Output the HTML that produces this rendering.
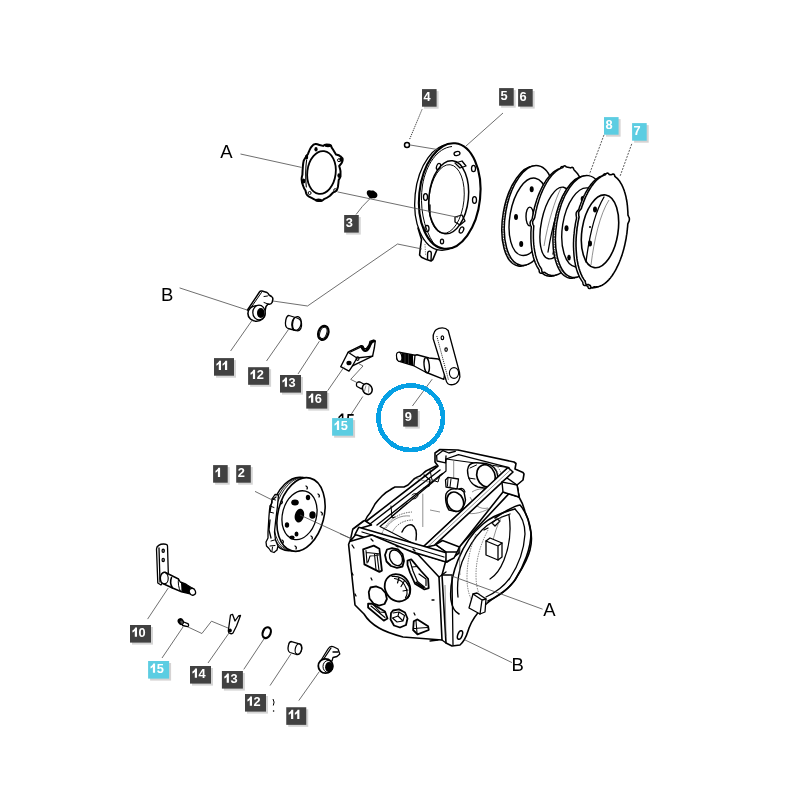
<!DOCTYPE html>
<html><head><meta charset="utf-8"><title>Parts diagram</title>
<style>
html,body{margin:0;padding:0;background:#fff;width:800px;height:800px;overflow:hidden}
svg{display:block;will-change:transform}
.p{fill:none;stroke:#000;stroke-width:1.3;stroke-linejoin:round;stroke-linecap:round}
.pw{fill:#fff;stroke:#000;stroke-width:1.3;stroke-linejoin:round;stroke-linecap:round}
.t{fill:none;stroke:#000;stroke-width:0.7}
.th{fill:none;stroke:#444;stroke-width:0.6}
.d{fill:none;stroke:#555;stroke-width:0.7;stroke-dasharray:1.5 1}
.ld{fill:none;stroke:#4a4a4a;stroke-width:0.8}
.lt{font-family:"Liberation Sans",sans-serif;font-size:12.8px;font-weight:bold;fill:#fff}
.ltc{font-family:"Liberation Sans",sans-serif;font-size:12.8px;font-weight:bold;fill:#fff}
.big{font-family:"Liberation Sans",sans-serif;font-size:18.5px;fill:#000}
</style></head>
<body>
<svg width="800" height="800" viewBox="0 0 800 800">
<rect width="800" height="800" fill="#fff"/>

<!-- PARTS -->
<g id="parts">
<g id="ringA">
  <path fill="#fff" stroke="#000" stroke-width="2" stroke-linejoin="round" d="M312,146.3 C313,144.5 315,144 316,144.1 C318,144.3 319,145 319.5,145 L323,145.9 C324,145 325,144.6 326.5,144.6 C328.5,144.6 330.5,145 330.9,145.4 L331.7,147.6 C333.5,150 335,153 336.1,154.6 C338,155 339.5,155.5 340.5,156.4 C342,157.5 342.8,159 342.7,159.9 C342.5,161.5 342,162.5 341.4,163.4 L339.2,166 C339.8,168 340.3,169.5 340.5,171.2 L340.5,176.5 C340,178 339.3,179 338.7,180 C338.5,183 338.2,185 337.9,187 C337.5,188.5 337,189.7 336.6,190.5 C335.5,191.5 334.5,192 333.5,192.2 C332,193.5 331,194.7 330,195.7 C327.5,197.5 325.5,198.5 323.9,199.2 C322.5,200.5 321.8,201 321.2,201 C319,201 317.5,200.7 316,200.1 C314.5,199.5 313.5,198.9 312.5,198.4 L309,196.6 C307.5,195.8 306.8,195 306.4,194 C306,192.5 305.7,191.5 305.5,190.5 C304.3,189 303.5,187 302.9,185.2 C302,183 301.7,181 301.6,179.1 C301.6,177.5 302,176 302.4,174.7 C302.5,171.5 302.7,168.5 302.9,166 C303.1,164 303.3,162.3 303.7,160.7 C304.5,159 305.4,157.5 306.4,156.4 L308.1,153.7 C308.8,152 309.3,150.6 309.9,149.4 C310.6,148 311.2,147 312,146.3 Z"/>
  <ellipse cx="321.5" cy="172.5" rx="14.2" ry="21.5" transform="rotate(7 321.5 172.5)" fill="none" stroke="#000" stroke-width="1.8"/>
  <path class="p" style="stroke-width:1.1" d="M306.6,160 C305.5,168 305.5,179 306.3,187"/>
  <g fill="#000">
    <ellipse cx="316" cy="149.2" rx="1.6" ry="2.2"/>
    <ellipse cx="303.6" cy="181" rx="1.8" ry="2.6"/>
    <ellipse cx="306.6" cy="157" rx="1.6" ry="2.6"/>
    <ellipse cx="339" cy="175.6" rx="1.6" ry="2.4"/>
    <ellipse cx="328" cy="145.6" rx="3.6" ry="1.7"/>
    <ellipse cx="318.5" cy="200.3" rx="3.6" ry="1.7"/>
    <ellipse cx="341" cy="159.5" rx="1.5" ry="2.2"/>
  </g>
  <g fill="none" stroke="#000" stroke-width="1">
    <circle cx="339" cy="160.2" r="1.5"/>
    <circle cx="335.2" cy="190.2" r="1.5"/>
    <circle cx="309.6" cy="193" r="1.5"/>
  </g>
</g>
<g id="spring3">
  <path fill="#000" d="M367,191.5 C368,190 370,190.3 371,190.7 C372.5,190 374.5,190.5 375.5,192 C377,193 377.8,194.5 377.3,196 C377,197.5 375,198.5 373,198.3 C371,198.8 369,198 368.5,196.5 C367,195 366.3,193 367,191.5 Z"/>
</g>
<circle cx="407" cy="144.9" r="2.5" fill="#fff" stroke="#000" stroke-width="1.5"/>
<g id="ring56">
  <!-- tab -->
  <path class="pw" style="stroke-width:1.6" d="M418,228 L421.5,239.5 L420.2,249 L419.6,255 L421.5,257.2 L426.5,259.6 L431,261 L432.8,259.6 L437,249.5 L441,238 Z"/>
  <path fill="none" stroke="#000" stroke-width="1.4" d="M427.5,259.8 L427.6,253.5 C427.8,250.3 431.3,250.3 431.3,253.5 L431,260.5"/>
  <path fill="none" stroke="#555" stroke-width="0.8" stroke-dasharray="1.2 1.2" d="M425,244 L425.6,256"/>
  <ellipse cx="445.5" cy="197.5" rx="30.5" ry="53" transform="rotate(6 445.5 197.5)" fill="#fff" stroke="#000" stroke-width="1.3"/>
  <ellipse cx="449.7" cy="196" rx="30.5" ry="53" transform="rotate(6 449.7 196)" fill="#fff" stroke="#000" stroke-width="2.1"/>
  <path fill="none" stroke="#000" stroke-width="1" d="M452,146.5 C437,148 426,165 422.5,185 C419.5,205 423,228 434,244"/>
  <ellipse cx="448.7" cy="197.3" rx="19.7" ry="36.7" transform="rotate(6 448.7 197.3)" fill="#fff" stroke="#000" stroke-width="1.5"/>
  <ellipse cx="446.5" cy="199" rx="17.5" ry="34.5" transform="rotate(6 446.5 199)" fill="none" stroke="#000" stroke-width="0.9"/>
  <g fill="none" stroke="#000" stroke-width="1.3">
    <ellipse cx="457" cy="153.5" rx="3" ry="2" transform="rotate(-15 457 153.5)"/>
    <ellipse cx="438.5" cy="166.5" rx="1.9" ry="3.2" transform="rotate(20 438.5 166.5)"/>
    <ellipse cx="473.5" cy="168.5" rx="2" ry="3.2"/>
    <ellipse cx="425.5" cy="197" rx="2" ry="3.4"/>
    <ellipse cx="474.5" cy="200" rx="2" ry="3.4"/>
    <ellipse cx="427" cy="228.5" rx="2" ry="3.2"/>
    <ellipse cx="461.5" cy="230" rx="2" ry="3.2" transform="rotate(25 461.5 230)"/>
    <ellipse cx="442" cy="241.5" rx="1.6" ry="2.4"/>
  </g>
  <path class="p" d="M455,163 L462,161 L466,166 L460,168 Z"/>
  <path class="p" d="M455,217 L462,215 L465,221 L460,225 L455,222 Z"/>
  <path class="p" d="M430,205 L430,213"/>
</g>
<g id="disks">
<!-- D1 -->
<ellipse cx="527" cy="216.3" rx="24" ry="50.5" transform="rotate(10 527 216.3)" fill="#fff" stroke="#000" stroke-width="1.5"/>
<ellipse cx="528.2" cy="215.9" rx="24" ry="50.5" transform="rotate(10 528.2 215.9)" fill="none" stroke="#000" stroke-width="1.6" stroke-dasharray="0.5 1.1"/>
<ellipse cx="529.5" cy="215.5" rx="24" ry="50.5" transform="rotate(10 529.5 215.5)" fill="#fff" stroke="#000" stroke-width="1.5"/>
<ellipse cx="528.5" cy="216.8" rx="18.5" ry="39.2" transform="rotate(10 528.5 216.8)" fill="#fff" stroke="#000" stroke-width="1.4"/>
<g fill="#000"><ellipse cx="531.7" cy="189.2" rx="2" ry="3"/><ellipse cx="516" cy="217" rx="2" ry="3"/><ellipse cx="521.2" cy="244" rx="2" ry="3"/></g>
<ellipse cx="529.8" cy="216.5" rx="3.8" ry="9.4" fill="#fff" stroke="#000" stroke-width="1.4"/>
<!-- D2 -->
<path fill="#fff" stroke="#000" stroke-width="1.5" d="M581.7,226.0 L581.5,227.4 L581.2,228.8 L580.9,230.2 L580.7,231.6 L580.4,233.0 L580.0,234.4 L579.7,235.8 L579.4,237.2 L579.0,238.5 L578.6,239.9 L578.2,241.2 L577.8,242.5 L577.4,243.8 L577.0,245.1 L576.5,246.4 L576.1,247.6 L575.6,248.9 L575.1,250.1 L574.6,251.3 L574.1,252.5 L573.6,253.7 L573.0,254.8 L572.5,255.9 L571.9,257.0 L571.4,258.1 L570.8,259.1 L570.2,260.2 L569.6,261.2 L569.0,262.1 L568.4,263.1 L567.8,264.0 L567.2,264.9 L566.5,265.7 L565.9,266.5 L565.2,267.3 L564.6,268.1 L563.9,268.8 L563.3,269.5 L562.6,270.2 L561.9,270.8 L561.3,271.4 L560.6,272.0 L559.9,272.5 L559.2,273.0 L558.5,273.5 L557.9,273.9 L557.2,274.3 L556.5,274.7 L555.8,275.0 L555.1,275.3 L554.4,275.5 L553.8,275.8 L553.1,275.9 L552.4,276.1 L551.7,276.2 L551.1,276.2 L550.4,276.3 L549.7,276.3 L549.1,276.2 L548.4,276.1 L547.8,276.0 L547.2,275.8 L546.5,275.7 L545.9,275.4 L545.3,275.2 L544.7,274.8 L544.1,274.5 L543.5,274.1 L542.9,273.7 L542.3,273.3 L541.6,273.1 L540.7,273.3 L540.0,273.0 L539.5,272.4 L539.2,271.3 L539.1,269.9 L538.6,269.2 L538.2,268.5 L537.7,267.7 L537.2,266.9 L536.8,266.1 L536.4,265.3 L536.0,264.4 L535.6,263.5 L535.2,262.6 L534.8,261.6 L534.5,260.6 L534.1,259.6 L533.8,258.6 L533.5,257.5 L533.2,256.5 L532.9,255.3 L532.7,254.2 L532.4,253.1 L532.2,251.9 L532.0,250.7 L531.8,249.5 L531.6,248.2 L531.5,247.0 L531.3,245.7 L531.2,244.4 L531.1,243.1 L531.0,241.8 L531.0,240.5 L530.9,239.2 L530.9,237.8 L530.9,236.4 L530.9,235.1 L530.9,233.7 L530.9,232.3 L531.0,230.9 L531.1,229.5 L531.2,228.1 L531.3,226.7 L530.5,225.3 L530.1,223.8 L530.2,222.3 L530.8,220.9 L531.7,219.6 L532.3,218.2 L532.5,216.8 L532.8,215.4 L533.1,214.0 L533.3,212.6 L533.6,211.2 L534.0,209.8 L534.3,208.4 L534.6,207.0 L535.0,205.7 L535.4,204.3 L535.8,203.0 L536.2,201.7 L536.6,200.4 L537.0,199.1 L537.5,197.8 L537.9,196.6 L538.4,195.3 L538.9,194.1 L539.4,192.9 L539.9,191.7 L540.4,190.5 L541.0,189.4 L541.5,188.3 L542.1,187.2 L542.6,186.1 L543.2,185.1 L543.8,184.0 L544.4,183.0 L545.0,182.1 L545.6,181.1 L546.2,180.2 L546.8,179.3 L547.5,178.5 L548.1,177.7 L548.8,176.9 L549.4,176.1 L550.1,175.4 L550.7,174.7 L551.4,174.0 L552.1,173.4 L552.7,172.8 L553.4,172.2 L554.1,171.7 L554.8,171.2 L555.5,170.7 L556.1,170.3 L556.8,169.9 L557.5,169.5 L558.2,169.2 L558.9,168.9 L559.6,168.7 L560.2,168.4 L560.9,167.3 L561.6,166.7 L562.3,166.5 L563.0,166.8 L563.6,167.6 L564.3,167.9 L564.9,168.0 L565.6,168.1 L566.2,168.2 L566.8,168.4 L567.5,168.5 L568.1,168.8 L569.0,168.2 L569.7,168.0 L570.4,168.3 L570.9,169.0 L571.2,170.1 L571.7,170.9 L572.2,171.4 L572.8,171.9 L573.3,172.5 L573.8,173.1 L574.4,173.7 L574.9,174.3 L575.4,175.0 L575.8,175.7 L576.3,176.5 L576.8,177.3 L577.2,178.1 L577.6,178.9 L578.0,179.8 L578.4,180.7 L578.8,181.6 L579.2,182.6 L579.5,183.6 L579.9,184.6 L580.2,185.6 L580.5,186.7 L580.8,187.7 L581.1,188.9 L581.3,190.0 L581.6,191.1 L581.8,192.3 L582.0,193.5 L582.2,194.7 L582.4,196.0 L582.5,197.2 L582.7,198.5 L582.8,199.8 L582.9,201.1 L583.0,202.4 L583.0,203.7 L583.1,205.0 L583.1,206.4 L583.1,207.8 L583.1,209.1 L583.1,210.5 L583.1,211.9 L583.0,213.3 L582.9,214.7 L582.8,216.1 L582.7,217.5 L582.6,218.9 L582.5,220.3 L582.3,221.8 L582.1,223.2 L581.9,224.6 Z"/>
<path fill="#fff" stroke="#000" stroke-width="1.5" d="M584.2,225.2 L584.0,226.6 L583.7,228.0 L583.4,229.4 L583.2,230.8 L582.9,232.2 L582.5,233.6 L582.2,235.0 L581.9,236.4 L581.5,237.7 L581.1,239.1 L580.7,240.4 L580.3,241.7 L579.9,243.0 L579.5,244.3 L579.0,245.6 L578.6,246.8 L578.1,248.1 L577.6,249.3 L577.1,250.5 L576.6,251.7 L576.1,252.9 L575.5,254.0 L575.0,255.1 L574.4,256.2 L573.9,257.3 L573.3,258.3 L572.7,259.4 L572.1,260.4 L571.5,261.3 L570.9,262.3 L570.3,263.2 L569.7,264.1 L569.0,264.9 L568.4,265.7 L567.7,266.5 L567.1,267.3 L566.4,268.0 L565.8,268.7 L565.1,269.4 L564.4,270.0 L563.8,270.6 L563.1,271.2 L562.4,271.7 L561.7,272.2 L561.0,272.7 L560.4,273.1 L559.7,273.5 L559.0,273.9 L558.3,274.2 L557.6,274.5 L556.9,274.7 L556.3,275.0 L555.6,275.1 L554.9,275.3 L554.2,275.4 L553.6,275.4 L552.9,275.5 L552.2,275.5 L551.6,275.4 L550.9,275.3 L550.3,275.2 L549.7,275.0 L549.0,274.9 L548.4,274.6 L547.8,274.4 L547.2,274.0 L546.6,273.7 L546.0,273.3 L545.4,272.9 L544.8,272.5 L544.1,272.3 L543.2,272.5 L542.5,272.2 L542.0,271.6 L541.7,270.5 L541.6,269.1 L541.1,268.4 L540.7,267.7 L540.2,266.9 L539.7,266.1 L539.3,265.3 L538.9,264.5 L538.5,263.6 L538.1,262.7 L537.7,261.8 L537.3,260.8 L537.0,259.8 L536.6,258.8 L536.3,257.8 L536.0,256.7 L535.7,255.7 L535.4,254.5 L535.2,253.4 L534.9,252.3 L534.7,251.1 L534.5,249.9 L534.3,248.7 L534.1,247.4 L534.0,246.2 L533.8,244.9 L533.7,243.6 L533.6,242.3 L533.5,241.0 L533.5,239.7 L533.4,238.4 L533.4,237.0 L533.4,235.6 L533.4,234.3 L533.4,232.9 L533.4,231.5 L533.5,230.1 L533.6,228.7 L533.7,227.3 L533.8,225.9 L533.0,224.5 L532.6,223.0 L532.7,221.5 L533.3,220.1 L534.2,218.8 L534.8,217.4 L535.0,216.0 L535.3,214.6 L535.6,213.2 L535.8,211.8 L536.1,210.4 L536.5,209.0 L536.8,207.6 L537.1,206.2 L537.5,204.9 L537.9,203.5 L538.3,202.2 L538.7,200.9 L539.1,199.6 L539.5,198.3 L540.0,197.0 L540.4,195.8 L540.9,194.5 L541.4,193.3 L541.9,192.1 L542.4,190.9 L542.9,189.7 L543.5,188.6 L544.0,187.5 L544.6,186.4 L545.1,185.3 L545.7,184.3 L546.3,183.2 L546.9,182.2 L547.5,181.3 L548.1,180.3 L548.7,179.4 L549.3,178.5 L550.0,177.7 L550.6,176.9 L551.3,176.1 L551.9,175.3 L552.6,174.6 L553.2,173.9 L553.9,173.2 L554.6,172.6 L555.2,172.0 L555.9,171.4 L556.6,170.9 L557.3,170.4 L558.0,169.9 L558.6,169.5 L559.3,169.1 L560.0,168.7 L560.7,168.4 L561.4,168.1 L562.1,167.9 L562.7,167.6 L563.4,166.5 L564.1,165.9 L564.8,165.7 L565.5,166.0 L566.1,166.8 L566.8,167.1 L567.4,167.2 L568.1,167.3 L568.7,167.4 L569.3,167.6 L570.0,167.7 L570.6,168.0 L571.5,167.4 L572.2,167.2 L572.9,167.5 L573.4,168.2 L573.7,169.3 L574.2,170.1 L574.7,170.6 L575.3,171.1 L575.8,171.7 L576.3,172.3 L576.9,172.9 L577.4,173.5 L577.9,174.2 L578.3,174.9 L578.8,175.7 L579.3,176.5 L579.7,177.3 L580.1,178.1 L580.5,179.0 L580.9,179.9 L581.3,180.8 L581.7,181.8 L582.0,182.8 L582.4,183.8 L582.7,184.8 L583.0,185.9 L583.3,186.9 L583.6,188.1 L583.8,189.2 L584.1,190.3 L584.3,191.5 L584.5,192.7 L584.7,193.9 L584.9,195.2 L585.0,196.4 L585.2,197.7 L585.3,199.0 L585.4,200.3 L585.5,201.6 L585.5,202.9 L585.6,204.2 L585.6,205.6 L585.6,207.0 L585.6,208.3 L585.6,209.7 L585.6,211.1 L585.5,212.5 L585.4,213.9 L585.3,215.3 L585.2,216.7 L585.1,218.1 L585.0,219.5 L584.8,221.0 L584.6,222.4 L584.4,223.8 Z"/>
<ellipse cx="556" cy="223" rx="14.5" ry="36.5" transform="rotate(12 556 223)" fill="#fff" stroke="#000" stroke-width="1.4"/>
<path class="p" d="M566,190 C558,205 552,228 548,252 M569,196 C562,210 557,230 553,254"/>
<path class="th" d="M561,188 C555,200 548,222 544,246"/>
<!-- D3 -->
<ellipse cx="578" cy="227.3" rx="24" ry="51.5" transform="rotate(9 578 227.3)" fill="#fff" stroke="#000" stroke-width="1.5"/>
<ellipse cx="579.2" cy="226.9" rx="24" ry="51.5" transform="rotate(9 579.2 226.9)" fill="none" stroke="#000" stroke-width="1.6" stroke-dasharray="0.5 1.1"/>
<ellipse cx="580.5" cy="226.5" rx="24" ry="51.5" transform="rotate(9 580.5 226.5)" fill="#fff" stroke="#000" stroke-width="1.5"/>
<ellipse cx="582" cy="227.5" rx="19.5" ry="40" transform="rotate(9 582 227.5)" fill="none" stroke="#000" stroke-width="1.4"/>
<g fill="#000"><ellipse cx="582.7" cy="199" rx="2" ry="3"/><ellipse cx="566.5" cy="228.3" rx="2" ry="3"/><ellipse cx="569" cy="257.6" rx="1.8" ry="2.8"/></g>
<!-- D4 -->
<path fill="#fff" stroke="#000" stroke-width="1.5" d="M624.3,235.0 L624.0,236.4 L623.8,237.9 L623.6,239.4 L623.3,240.8 L623.0,242.3 L622.7,243.7 L622.4,245.2 L622.1,246.6 L621.7,248.0 L621.4,249.4 L621.0,250.8 L620.6,252.2 L620.2,253.5 L619.8,254.9 L619.4,256.2 L618.9,257.5 L618.4,258.8 L618.0,260.1 L617.5,261.3 L617.0,262.6 L616.5,263.8 L616.0,265.0 L615.4,266.2 L614.9,267.3 L614.3,268.4 L613.8,269.5 L613.2,270.6 L612.6,271.7 L612.0,272.7 L611.4,273.7 L610.8,274.6 L610.2,275.6 L609.6,276.5 L608.9,277.3 L608.3,278.2 L607.7,279.0 L607.0,279.7 L606.4,280.5 L605.7,281.2 L605.0,281.9 L604.4,282.5 L603.7,283.1 L603.0,283.7 L602.4,284.2 L601.7,284.7 L601.0,285.2 L600.3,285.6 L599.6,286.0 L599.0,286.3 L598.3,286.6 L597.6,286.9 L596.9,287.1 L596.3,287.3 L595.6,287.5 L594.9,287.6 L594.2,287.7 L593.6,287.7 L592.9,287.8 L592.3,287.7 L591.6,287.6 L590.9,287.9 L590.1,288.5 L589.4,288.6 L588.7,288.3 L588.2,287.6 L587.8,286.4 L587.2,286.1 L586.6,285.7 L586.0,285.3 L585.2,285.4 L584.4,285.5 L583.7,285.2 L583.2,284.4 L582.9,283.2 L582.7,282.0 L582.2,281.4 L581.7,280.7 L581.2,279.9 L580.8,279.2 L580.3,278.4 L579.8,277.6 L579.4,276.7 L579.0,275.8 L578.6,274.9 L578.2,273.9 L577.8,272.9 L577.4,271.9 L577.1,270.9 L576.7,269.8 L576.4,268.7 L576.1,267.6 L575.8,266.5 L575.5,265.3 L575.3,264.1 L575.1,262.9 L574.8,261.7 L574.6,260.4 L574.4,259.2 L574.3,257.9 L574.1,256.6 L574.0,255.2 L573.9,253.9 L573.8,252.5 L573.7,251.2 L573.6,249.8 L573.6,248.4 L573.5,247.0 L573.5,245.5 L573.5,244.1 L573.5,242.7 L573.6,241.2 L573.6,239.8 L573.7,238.3 L573.8,236.8 L573.9,235.4 L574.1,233.9 L574.2,232.4 L574.4,231.0 L574.5,229.5 L574.7,228.0 L575.0,226.6 L575.2,225.1 L575.4,223.6 L575.7,222.2 L576.0,220.7 L576.3,219.3 L576.6,217.8 L576.3,216.2 L576.1,214.5 L576.2,213.0 L576.8,211.7 L577.8,210.6 L578.8,209.5 L579.2,208.1 L579.6,206.8 L580.1,205.5 L580.6,204.2 L581.0,202.9 L581.5,201.7 L582.0,200.4 L582.5,199.2 L583.0,198.0 L583.6,196.8 L584.1,195.7 L584.7,194.6 L585.2,193.5 L585.8,192.4 L586.4,191.3 L587.0,190.3 L587.6,189.3 L588.2,188.4 L588.8,187.4 L589.4,186.5 L590.1,185.7 L590.7,184.8 L591.3,184.0 L592.0,183.3 L592.6,182.5 L593.3,181.8 L594.0,181.1 L594.6,180.5 L595.3,179.9 L596.0,179.3 L596.6,178.8 L597.3,178.3 L598.0,177.8 L598.7,177.4 L599.4,177.0 L600.0,176.7 L600.7,176.4 L601.4,176.1 L602.1,175.9 L602.7,175.7 L603.4,174.8 L604.1,174.1 L604.8,173.8 L605.5,174.0 L606.1,174.6 L606.7,175.3 L607.4,175.4 L608.0,175.5 L608.7,175.6 L609.4,175.4 L610.2,174.9 L610.9,174.9 L611.6,175.2 L612.1,176.1 L612.4,177.3 L613.0,177.7 L613.5,178.2 L614.1,178.7 L614.7,179.2 L615.2,179.7 L615.7,180.3 L616.3,181.0 L616.8,181.6 L617.3,182.3 L617.8,183.1 L618.2,183.8 L618.7,184.6 L619.2,185.4 L619.6,186.3 L620.0,187.2 L620.4,188.1 L620.8,189.1 L621.2,190.1 L621.6,191.1 L621.9,192.1 L622.3,193.2 L622.6,194.3 L622.9,195.4 L623.2,196.5 L623.5,197.7 L623.7,198.9 L623.9,200.1 L624.2,201.3 L624.4,202.6 L624.6,203.8 L624.7,205.1 L624.9,206.4 L625.0,207.8 L625.1,209.1 L625.2,210.5 L625.3,211.8 L625.4,213.2 L625.4,214.6 L625.5,216.0 L626.1,217.3 L626.8,218.7 L626.9,220.1 L626.7,221.7 L626.0,223.2 L625.3,224.7 L625.2,226.2 L625.1,227.6 L624.9,229.1 L624.8,230.6 L624.6,232.0 L624.5,233.5 Z"/>
<path fill="#fff" stroke="#000" stroke-width="1.6" d="M626.8,234.2 L626.5,235.6 L626.3,237.1 L626.1,238.6 L625.8,240.0 L625.5,241.5 L625.2,242.9 L624.9,244.4 L624.6,245.8 L624.2,247.2 L623.9,248.6 L623.5,250.0 L623.1,251.4 L622.7,252.7 L622.3,254.1 L621.9,255.4 L621.4,256.7 L620.9,258.0 L620.5,259.3 L620.0,260.5 L619.5,261.8 L619.0,263.0 L618.5,264.2 L617.9,265.4 L617.4,266.5 L616.8,267.6 L616.3,268.7 L615.7,269.8 L615.1,270.9 L614.5,271.9 L613.9,272.9 L613.3,273.8 L612.7,274.8 L612.1,275.7 L611.4,276.5 L610.8,277.4 L610.2,278.2 L609.5,278.9 L608.9,279.7 L608.2,280.4 L607.5,281.1 L606.9,281.7 L606.2,282.3 L605.5,282.9 L604.9,283.4 L604.2,283.9 L603.5,284.4 L602.8,284.8 L602.1,285.2 L601.5,285.5 L600.8,285.8 L600.1,286.1 L599.4,286.3 L598.8,286.5 L598.1,286.7 L597.4,286.8 L596.7,286.9 L596.1,286.9 L595.4,287.0 L594.8,286.9 L594.1,286.8 L593.4,287.1 L592.6,287.7 L591.9,287.8 L591.2,287.5 L590.7,286.8 L590.3,285.6 L589.7,285.3 L589.1,284.9 L588.5,284.5 L587.7,284.6 L586.9,284.7 L586.2,284.4 L585.7,283.6 L585.4,282.4 L585.2,281.2 L584.7,280.6 L584.2,279.9 L583.7,279.1 L583.3,278.4 L582.8,277.6 L582.3,276.8 L581.9,275.9 L581.5,275.0 L581.1,274.1 L580.7,273.1 L580.3,272.1 L579.9,271.1 L579.6,270.1 L579.2,269.0 L578.9,267.9 L578.6,266.8 L578.3,265.7 L578.0,264.5 L577.8,263.3 L577.6,262.1 L577.3,260.9 L577.1,259.6 L576.9,258.4 L576.8,257.1 L576.6,255.8 L576.5,254.4 L576.4,253.1 L576.3,251.7 L576.2,250.4 L576.1,249.0 L576.1,247.6 L576.0,246.2 L576.0,244.7 L576.0,243.3 L576.0,241.9 L576.1,240.4 L576.1,239.0 L576.2,237.5 L576.3,236.0 L576.4,234.6 L576.6,233.1 L576.7,231.6 L576.9,230.2 L577.0,228.7 L577.2,227.2 L577.5,225.8 L577.7,224.3 L577.9,222.8 L578.2,221.4 L578.5,219.9 L578.8,218.5 L579.1,217.0 L578.8,215.4 L578.6,213.7 L578.7,212.2 L579.3,210.9 L580.3,209.8 L581.3,208.7 L581.7,207.3 L582.1,206.0 L582.6,204.7 L583.1,203.4 L583.5,202.1 L584.0,200.9 L584.5,199.6 L585.0,198.4 L585.5,197.2 L586.1,196.0 L586.6,194.9 L587.2,193.8 L587.7,192.7 L588.3,191.6 L588.9,190.5 L589.5,189.5 L590.1,188.5 L590.7,187.6 L591.3,186.6 L591.9,185.7 L592.6,184.9 L593.2,184.0 L593.8,183.2 L594.5,182.5 L595.1,181.7 L595.8,181.0 L596.5,180.3 L597.1,179.7 L597.8,179.1 L598.5,178.5 L599.1,178.0 L599.8,177.5 L600.5,177.0 L601.2,176.6 L601.9,176.2 L602.5,175.9 L603.2,175.6 L603.9,175.3 L604.6,175.1 L605.2,174.9 L605.9,174.0 L606.6,173.3 L607.3,173.0 L608.0,173.2 L608.6,173.8 L609.2,174.5 L609.9,174.6 L610.5,174.7 L611.2,174.8 L611.9,174.6 L612.7,174.1 L613.4,174.1 L614.1,174.4 L614.6,175.3 L614.9,176.5 L615.5,176.9 L616.0,177.4 L616.6,177.9 L617.2,178.4 L617.7,178.9 L618.2,179.5 L618.8,180.2 L619.3,180.8 L619.8,181.5 L620.3,182.3 L620.7,183.0 L621.2,183.8 L621.7,184.6 L622.1,185.5 L622.5,186.4 L622.9,187.3 L623.3,188.3 L623.7,189.3 L624.1,190.3 L624.4,191.3 L624.8,192.4 L625.1,193.5 L625.4,194.6 L625.7,195.7 L626.0,196.9 L626.2,198.1 L626.4,199.3 L626.7,200.5 L626.9,201.8 L627.1,203.0 L627.2,204.3 L627.4,205.6 L627.5,207.0 L627.6,208.3 L627.7,209.7 L627.8,211.0 L627.9,212.4 L627.9,213.8 L628.0,215.2 L628.6,216.5 L629.3,217.9 L629.4,219.3 L629.2,220.9 L628.5,222.4 L627.8,223.9 L627.7,225.4 L627.6,226.8 L627.4,228.3 L627.3,229.8 L627.1,231.2 L627.0,232.7 Z"/>
<ellipse cx="600" cy="231.3" rx="18" ry="36.8" transform="rotate(9 600 231.3)" fill="#fff" stroke="#000" stroke-width="1.6"/>
<path class="p" d="M604,197 C595,212 589,238 586,262"/>
<path class="th" d="M609,200 C600,214 594,240 591,265"/>
<g fill="#000"><ellipse cx="595" cy="209.5" rx="2" ry="3"/><ellipse cx="590" cy="243.5" rx="2" ry="3"/><circle cx="590" cy="227" r="1"/></g>
</g>

<g id="arm11u">
  <path class="pw" style="stroke-width:1.5" d="M247.5,310 L259.5,292 C260,291 261,290.8 262,291 L267,292.5 C268,293.2 268.7,294 269,295 L271.5,296.5 C272.5,297.2 273,298.5 272.8,299.5 L272.2,302.3 C271.5,303.8 270.5,304.3 269.5,304.3 L268,304 L266,306.5 L265,311 L255,318 Z"/>
  <path class="p" style="stroke-width:1" d="M250,309 L261.5,292.5 M264,302.5 L268,304 M264,296.5 L267.5,296"/>
  <ellipse cx="256.5" cy="313.5" rx="8.6" ry="7.8" fill="#fff" stroke="#000" stroke-width="1.6"/>
  <ellipse cx="259" cy="312.5" rx="6.2" ry="7.3" fill="#fff" stroke="#000" stroke-width="1.3"/>
  <ellipse cx="260.8" cy="313" rx="3.8" ry="5" fill="#000"/>
</g>
<g id="bush12u">
  <path class="pw" d="M289,315.5 L297,318 C300,319 302,322 301.5,326 C301,330 298.5,331.5 296,330.5 L288,328.5 C285.5,327.5 285,324 285.8,320 C286.5,317 287.5,315.5 289,315.5 Z"/>
  <ellipse cx="296.5" cy="323.5" rx="4.6" ry="7" transform="rotate(12 296.5 323.5)" fill="none" stroke="#000" stroke-width="1.3"/>
  <path class="p" d="M294,318.5 C292,322 292,327 293.8,330"/>
</g>
<ellipse cx="323.3" cy="332.9" rx="5" ry="7.2" transform="rotate(18 323.3 332.9)" fill="none" stroke="#000" stroke-width="2.2"/>
<ellipse cx="323.3" cy="332.9" rx="3.4" ry="5.8" transform="rotate(18 323.3 332.9)" fill="none" stroke="#000" stroke-width="1"/>
<g id="br16">
  <path class="pw" style="stroke-width:1.4" d="M340.7,366.7 L348.1,352.3 L349.4,351.4 L361.2,345.7 L363,346.2 L364.3,348.8 L366.5,348.4 L369.1,344.9 L370,341.4 L373.5,340.1 L375.2,341.4 L374.4,347.5 L372.6,356.2 L352.5,365.9 L349,371.1 Z"/>
  <path fill="none" stroke="#000" stroke-width="2.6" stroke-linecap="round" stroke-linejoin="round" d="M361.5,346.5 C362.5,349 364,351 365.5,350.8 C367.5,350.5 369,348 370,345 C371,342.5 372.5,341 374.5,341"/>
  <path class="p" d="M348.1,352.3 L356.9,358 L352.5,365.9 M356.9,358 L372.6,356.2 M350.5,352 L362,346.5"/>
  <ellipse cx="349" cy="363" rx="2.6" ry="2.3" fill="#000"/>
  <ellipse cx="357.6" cy="358.6" rx="1.4" ry="1.8" fill="none" stroke="#000" stroke-width="1.2"/>
</g>
<g id="screw15u">
  <path class="pw" style="stroke-width:1.3" d="M358,382 C356.3,382.5 356,385 357,386.5 L361.5,388.8 L364.5,384.5 L360,382 Z"/>
  <ellipse cx="367.3" cy="389" rx="4.6" ry="5.6" transform="rotate(-30 367.3 389)" fill="#fff" stroke="#000" stroke-width="1.5"/>
  <path class="th" d="M366,385.5 L364.5,391 M369,386 L368.5,392.5"/>
</g>
<g id="shaft9">
  <path class="pw" style="stroke-width:1.4" d="M400.3,352.5 L415,355.3 L417,354.8 L429,358 L438.3,359 L446,366 L443.8,379.4 L425.3,372 L413.3,365.5 L398.5,361 C396.8,360 396.5,357 397,355 C397.6,353 398.8,352.3 400.3,352.5 Z"/>
  <ellipse cx="399.2" cy="356.8" rx="2.6" ry="4.6" transform="rotate(-10 399.2 356.8)" fill="#fff" stroke="#000" stroke-width="1.2"/>
  <path d="M402,353 L413,355 L413.3,365.5 L402,362 Z" fill="#000"/>
  <path stroke="#666" stroke-width="0.5" d="M405,353.8 L405,363 M408.5,354.3 L408.5,364"/>
  <path class="p" d="M415,355.3 L414,365.5"/>
  <ellipse cx="426.7" cy="365.2" rx="2.6" ry="7.6" transform="rotate(-6 426.7 365.2)" fill="none" stroke="#000" stroke-width="1.4"/>
  <path class="pw" d="M433.2,338.8 C432.8,333.5 435,329.5 438.8,328.4 C442.5,327.5 446.5,328.5 448.2,330.5 L459.5,372.5 C461,378.5 458,383.8 453,384.6 C449,385.2 446.5,383 446,380 Z"/>
  <path fill="none" stroke="#000" stroke-width="0.9" stroke-dasharray="1 1" d="M436.8,336 L448.5,380"/>
  <ellipse cx="442.4" cy="337.7" rx="1.3" ry="1.9" fill="none" stroke="#000" stroke-width="1.2"/>
  <ellipse cx="446.1" cy="349.6" rx="1.2" ry="1.8" fill="none" stroke="#000" stroke-width="1.2"/>
  <ellipse cx="454" cy="373" rx="4.6" ry="5.4" fill="none" stroke="#000" stroke-width="1.1"/>
</g>
<g id="disc12">
  <ellipse cx="294" cy="514" rx="23" ry="37.5" transform="rotate(14 294 514)" fill="#fff" stroke="#000" stroke-width="1.5"/>
  <ellipse cx="296" cy="514" rx="23" ry="37.5" transform="rotate(14 296 514)" fill="none" stroke="#000" stroke-width="0.8"/>
  <ellipse cx="298" cy="514" rx="23" ry="37.5" transform="rotate(14 298 514)" fill="none" stroke="#000" stroke-width="0.8"/>
  <path class="pw" style="stroke-width:1.3" d="M275,494.5 L278.5,495 L277.5,506 L275.5,522 L274.5,532 L275.5,540 L278,546 L277,550 L274,552.5 L271,551.5 L269,548.5 L266.5,546 L266,542 L268,538 L268,532 L268.5,524 L269,516 L269.5,510 L270,506 L272,503 L272,499 Z"/>
  <path class="p" style="stroke-width:1" d="M272,499 L275.5,500 M270,506 L274,507.5 M269.5,512 L273.5,513 M271,541 L274.5,540 M270,546 L275,545.5 M272.5,547 L272,551"/>
  <ellipse cx="301" cy="514.5" rx="23" ry="37.5" transform="rotate(14 301 514.5)" fill="#fff" stroke="#000" stroke-width="1.6"/>
  <ellipse cx="299.5" cy="515.2" rx="17" ry="24.8" transform="rotate(14 299.5 515.2)" fill="none" stroke="#000" stroke-width="1.3"/>
  <ellipse cx="299.4" cy="515.6" rx="4.6" ry="7" transform="rotate(14 299.4 515.6)" fill="#000"/>
  <g fill="#000">
    <ellipse cx="295" cy="502.5" rx="3.8" ry="3"/>
    <ellipse cx="308" cy="497.5" rx="2.2" ry="2.8"/>
    <ellipse cx="312.5" cy="515" rx="3.2" ry="3.8"/>
    <ellipse cx="287" cy="525" rx="2.2" ry="2.8"/>
    <ellipse cx="296.5" cy="534" rx="2" ry="2.6"/>
    <ellipse cx="292" cy="537.5" rx="2.6" ry="2"/>
  </g>
  <path class="p" d="M306,486 q2,1 1,3 M318,494 q2,1 1,3 M321,512 q2,1 1,3 M311,536 q2,1 1,3 M295,546 q2,1 1,3 M282,540 q2,1 1,3 M282,501 q1,2 -1,3"/>
  <path class="p" d="M276,497 L272,500 L270,512 M270,520 L269,530 L271,538"/>
</g>
<g id="lever10">
  <path class="pw" d="M156.5,549 C156.5,546 160,544 163.5,544 C166,544 167.5,545 167.5,546 L168.3,573 L161,585 L157.8,583 Z"/>
  <path class="p" d="M159,548 L160,582"/>
  <ellipse cx="163.2" cy="550.8" rx="1.2" ry="1.7" fill="#888" stroke="#000" stroke-width="1.1"/>
  <ellipse cx="163.2" cy="559.9" rx="1.2" ry="1.7" fill="#888" stroke="#000" stroke-width="1.1"/>
  <path class="pw" style="stroke-width:1.4" d="M165,572.25 L178.5,579 L180.3,582 L186,584.25 L194.25,589.5 L193,595 L191.25,594 L181.5,591.75 L172.5,588 L162.75,583.5 C160.5,582.5 159.8,578 160.8,575.5 C161.8,573 163.3,572 165,572.25 Z"/>
  <path class="p" style="stroke-width:1.1" d="M165,572.25 C167.5,573.5 168.5,577 168,580.5 C167.5,583 165.5,584.2 162.75,583.5"/>
  <path class="p" style="stroke-width:1.6" d="M171.5,577.5 C170.3,580.5 170.5,585 172.5,588"/>
  <path class="p" style="stroke-width:1" d="M178.5,579 C177.8,582.5 178.5,588 180.5,591.4"/>
  <path d="M181,582.4 L186,584.4 L190.5,587 L190.8,594 L181.5,591.75 Z" fill="#000"/>
  <ellipse cx="192.4" cy="591.75" rx="3" ry="3.5" transform="rotate(-25 192.4 591.75)" fill="#fff" stroke="#000" stroke-width="1.3"/>
</g>
<g id="screw15l">
  <path class="pw" style="stroke-width:1.3" d="M182.5,621.5 L187.8,623.6 C188.9,624.2 188.9,626.3 187.7,626.7 L182.5,625.5 Z"/>
  <ellipse cx="180.8" cy="621.6" rx="3" ry="3.6" transform="rotate(-30 180.8 621.6)" fill="#000"/>
  <ellipse cx="181.6" cy="622.2" rx="1.2" ry="1.8" transform="rotate(-30 181.6 622.2)" fill="#555"/>
</g>
<g id="fork14">
  <path class="pw" d="M230.5,615 L232.5,614.3 L235,621 L238.5,616 L240.5,615.5 L236.5,626 L233,633 C231,634.5 228.5,633.5 228.3,631 Z"/>
  <ellipse cx="230.2" cy="630.5" rx="1.6" ry="2" fill="#000"/>
</g>
<ellipse cx="266.7" cy="632.7" rx="3.9" ry="5.6" transform="rotate(22 266.7 632.7)" fill="none" stroke="#000" stroke-width="2.2"/>
<g id="bush12l">
  <path class="pw" d="M291.5,641.5 L298.5,643.5 C301,644.5 302,647 301.5,650 C301,653 299,655 296.5,654.5 L290,652.5 C288,651.5 287.8,648 288.5,645 C289,642.5 290,641.5 291.5,641.5 Z"/>
  <ellipse cx="298.5" cy="649" rx="3.2" ry="5.3" transform="rotate(15 298.5 649)" fill="none" stroke="#000" stroke-width="1.2"/>
</g>
<g id="arm11l">
  <path class="pw" d="M320,662 L328,649 C329.5,646.5 332,646 334,647 L338,649 L339.8,654 L337,656.5 L333,657.5 L332,661 Z"/>
  <path class="p" d="M323,660 L331,648 M333,652 L338,652"/>
  <ellipse cx="325.5" cy="666" rx="7.2" ry="7.2" fill="#fff" stroke="#000" stroke-width="1.8"/>
  <ellipse cx="328" cy="666.5" rx="5" ry="6" fill="none" stroke="#000" stroke-width="1"/>
  <ellipse cx="329" cy="667.2" rx="3.9" ry="5.1" fill="#000"/>
</g>
<g id="housing">
  <!-- left bell -->
  <path class="pw" style="stroke-width:1.6" d="M362,524 L365,521 C367,516.5 368.5,514.5 370,513 C372,509.5 373.5,507 375,504 C378,500 380,498 382,496 C385,493 388,491 390,490 C392,488.5 394,487.5 395,487 L404,487 L408,485 C410,483 412,481 414,479 C416,477.5 418,476.5 420,476 C422,474.5 424,472.5 426,471 L430,469 L436,466 L440,470 L372,528 Z"/>
  <!-- right shell outer -->
  <path class="pw" style="stroke-width:1.6" d="M517,485 L519,497 C522,502 524,507 525,512 C527,516 529,522 530,528 C532,535 532,542 530,550 C528,558 523,567 518,575 C515,581 510,587 503,592 C497,596 490,600 484,606 C478,612 472,620 469,628 C467,634 466,640 460,645 L452,646 L446,643 L442,575 L446,560 L458,548 Z"/>
  <!-- right opening -->
  <path class="p" style="stroke-width:1.6" d="M495,518 C504,512 513,506 520,505 C526,512 530,522 531,533 C531,548 524,566 515,580 C509,588 500,596 488,601"/>
  <path class="p" d="M515,509 C522,516 525,525 525,534 C524,550 518,566 510,578 C505,585 497,592 486,597"/>
  <path class="p" style="stroke-width:1.6" d="M515,509 C503,512 492,516 483,524 C472,533 464,545 458,560 C452,575 450,590 451,600 C452,607 455,612 459,614"/>
  <path class="p" d="M510,514 C500,517 490,522 482,530 C473,539 467,550 462,562 C458,574 457,588 458,597"/>
  <path class="p" d="M509,515 C511,528 510,545 504,560 C500,570 495,576 490,579"/>
  <path class="p" d="M492,523 L497,519 L500,521 L495,526 Z M484,530 L488,528"/>
  <path class="th" d="M502,516 C497,525 494,535 492,545"/>
  <path class="d" d="M476,534 C470,548 467,562 467,578 C467,590 470,600 476,606"/>
  <path class="d" d="M488,530 C480,545 476,560 476,575 C476,590 480,600 488,604"/>
  <path class="th" d="M462,534 C460,545 459,560 460,575"/>
  <!-- block in opening -->
  <path class="pw" d="M486,541 L490,538 L502,543 L502,557 L498,560 L486,555 Z"/>
  <path class="p" d="M486,541 L498,546 L502,543 M498,546 L498,560"/>
  <!-- block lower -->
  <path class="pw" d="M473,594 L477,593 L486,599 L485,612 L480,614 L469,608 Z"/>
  <path class="p" d="M473,594 L482,600 L486,599 M482,600 L480,614"/>
  <!-- top frame (outer) -->
  <path class="pw" style="stroke-width:1.6" d="M353,529 L363.5,521 L366,521.5 L438,466 L435,462 L435,453 L440,449.5 L458,450 L514,462 L516,463.5 L515,469 L523,472.5 L524,474 L523,480 L517,485 L519,497 L503,492 L459,547.5 L459,553 L447,562 L355,534 Z"/>
  <!-- interior (inside frame) -->
  <path class="pw" d="M380,526.5 L446,471 L446,459 L508,467.5 L422,548 Z" style="stroke-width:1.2"/>
  <!-- left rail lines -->
  <path class="p" style="stroke-width:1.4" d="M370,524 L440,470 M377,525 L442.5,473.5"/>
  <path class="p" style="stroke-width:1" d="M385,523 C392,516 400,509 407,503 M391,506 L392,518 L395,517 M412,495 C414,493 417,493 418,495 C418,497 416,499 413,499 M430,470 L432,480 L438,482 L440,475"/>
  <!-- back rail lines -->
  <path class="p" style="stroke-width:1.3" d="M458.5,454.6 L509,467.6 M446,459 L458.5,454.6"/>
  <path class="p" style="stroke-width:1.3" d="M436.6,455.4 L443,450.6 L448.8,453 L455.3,451.4 M436.6,455.4 L437,461 L445.5,462.8 L446,456"/>
  <!-- back wall / interior detail -->
  <path class="th" d="M453.7,461 L453.7,487 M422.8,493.7 L422.8,527 M415,478 L428,482 L440,478"/>
  <path class="p" d="M424,475 L430,480 L429,486 L424,488"/>
  <path class="th" d="M386,528 C392,519 401,515 410,516"/>
  <path class="d" d="M382,533 C388,520 398,513 412,512 M392,533 C396,524 404,520 413,520" style="stroke:#333"/>
  <path class="p" style="stroke-width:1.5" d="M402,532 C404,527 408,524 412,525 C416,527 417,533 416,540"/>
  <!-- upper bore -->
  <path class="pw" style="stroke-width:1.4" d="M467.5,470 C468,465 471,462.5 476,462.8 L486,463.5 C492,464.5 497,469 497.6,476 C498,483 494,488 488,488.8 L478,487 C472,485 467.5,479 467.5,470 Z"/>
  <ellipse cx="486" cy="475.8" rx="9" ry="11.3" transform="rotate(-20 486 475.8)" fill="#fff" stroke="#000" stroke-width="1.7"/>
  <path class="p" style="stroke-width:1" d="M470,468 L476.5,465 M468.5,478 L475,479"/>
  <path class="d" style="stroke:#444" d="M492,465 C497,469 500,476 499,484 M496,465 C501,470 503,477 502,485"/>
  <!-- small block between bores -->
  <path class="pw" style="stroke-width:1.3" d="M445.5,480 L448,477.4 L458.5,479 L457,488.8 L446,487 Z"/>
  <path class="p" style="stroke-width:1" d="M448,477.4 L447.5,486 M451,479 L450,487"/>
  <!-- lower bore -->
  <path class="pw" style="stroke-width:1.4" d="M446,494 C448,490 452,488.5 456,489 C459,488.5 462,489.5 464,492 L465.5,500 C465,506 461,511 456,511.5 L449,510 C446,506 445,499 446,494 Z"/>
  <ellipse cx="455.3" cy="501.7" rx="8" ry="10" transform="rotate(-25 455.3 501.7)" fill="#fff" stroke="#000" stroke-width="1.7"/>
  <path class="p" style="stroke-width:1.1" d="M459,489 C462,487.5 464,489 465,492"/>
  <path class="th" d="M472,492 C478,488 486,488 492,491 M462,512 C470,515 480,514 490,508 M470,497 C474,505 480,510 488,508"/>
  <path class="th" d="M430,510 L440,512"/>
  <!-- right rail -->
  <path class="pw" style="stroke-width:1.6" d="M508,467.5 L513,472 L434.6,545.2 L422,548 Z"/>
  <path class="th" d="M510.5,469.8 L428,546.5"/>
  <!-- right back block -->
  <path class="pw" style="stroke-width:1.4" d="M502,482 L507,478 L517,485 L519,497 L503,492 Z"/>
  <path class="p" d="M502,482 L517,485"/>
  <!-- front-left lug -->
  <path class="pw" style="stroke-width:1.5" d="M352.7,529.5 L364.7,520.5 L371.5,525 L359,528.5 L357,533 L350,541.5 Z"/>
  <!-- front bar -->
  <path class="pw" style="stroke-width:1.6" d="M358.7,527.3 L447,553 L446,562 L355,534.5 Z"/>
  <path class="p" d="M362,532 L444,557"/>
  <!-- front-right lug -->
  <path class="pw" style="stroke-width:1.5" d="M435.7,544.7 L442.5,540.5 L459.4,547 L457,552 L454,558 L446,562 L446,552 Z"/>
  <path class="p" d="M446,552 L457,552 M446,552 L435.7,544.7"/>
  <!-- front face -->
  <path class="pw" style="stroke-width:1.6" d="M349.7,541.5 L372,535 L418,554.5 L439,577 L442,640 L403,637 C392,634 384,631 379,628 C372,624 367,619 364,614 L355,605 L348.6,544.5 Z"/>
  <path class="p" d="M439,577 L446,572 M442,640 L446,643"/>
  <path class="p" d="M442,575 L452,575 L453,645"/>
  <path class="p" d="M430,641 L438,640"/>
  <path class="th" d="M445,585 L446,636"/>
  <!-- holes on front face -->
  <path class="p" style="stroke-width:1.8" d="M363.1,549.4 L373.75,545.6 L379.4,548.75 L381.9,570.6 L379.4,571.9 L364.4,564.4 Z"/>
  <path class="p" style="stroke-width:1.1" d="M366,550.5 L367,563 M366.5,552.5 L378.7,553.7 M368,562 L370,556 L378.5,555 M374.5,554 L376,570 M377,554.5 L379,570.5"/>
  <path class="p" style="stroke-width:1.8" d="M387,549.5 L392,548.2 L398,549.3 L402.5,554 L404,561 L402.5,566.5 L397,567.8 L391,566 L386.5,561.5 L385,555 Z"/>
  <ellipse cx="396" cy="557.8" rx="5.9" ry="8.3" transform="rotate(-28 396 557.8)" fill="none" stroke="#000" stroke-width="1.4"/>
  <path class="p" style="stroke-width:1.8" d="M407.5,560.6 L411.25,559.4 L421.25,571.25 L428.1,578.75 L428.75,588.1 L424.4,589.4 L415,583.75 L410,572.5 L407.5,565 Z"/>
  <path class="p" style="stroke-width:1.2" d="M410,561 L413,571 L417.5,581.5 L425,587.5 M412,567 L417,566.5 M419,574 L426,579 L426,585.5"/>
  <path fill="none" stroke="#000" stroke-width="2" d="M415.5,582 L424,588"/>
  <ellipse cx="397.5" cy="587.8" rx="12.2" ry="14.2" transform="rotate(-32 397.5 587.8)" fill="none" stroke="#000" stroke-width="1.8"/>
  <path class="p" style="stroke-width:1.2" d="M392,576.5 C399,575.5 406,579.5 409,586.5 C410.5,591 410,595.5 408,598 M394.5,578.5 C400,579 404.5,583 406.5,589 C407.5,592.5 407,595.5 405.5,597.5 M399,577.5 L397.5,583 M404,581.5 L401,586.5 M408,590 L403,591"/>
  <path class="p" style="stroke-width:1.8" d="M370.5,587.5 L376,586.3 L381.5,588.5 L385.5,593 L386.9,599 L384.5,604 L379,605.6 L373.5,603.5 L369.5,598.5 L368.75,592 Z"/>
  <path class="p" style="stroke-width:1.8" d="M368.1,603.75 L371.9,603.75 L385,611.5 L387.5,618.5 L383.75,620.6 L368.1,607.5 Z"/>
  <path class="p" style="stroke-width:1.1" d="M371,606 L385,617.5 M374,605.5 L380,612 L385,612.5"/>
  <path class="p" style="stroke-width:1.8" d="M393,610.5 L399,609.4 L405,612.5 L407.5,618.5 L406,625 L400,627.5 L394,625.5 L390.6,619.5 L391,613 Z"/>
  <path class="p" style="stroke-width:1.1" d="M393,613 L399,612 L404.5,615.5 L403,621 L397,622 L392.5,618 M399,612 L398,616 L403,621 M398,616 L392.5,618"/>
  <path class="p" style="stroke-width:1.8" d="M413.75,621.25 L417.5,619.4 L428.1,626.25 L428.75,630 L417.5,634.4 L413.1,630 Z"/>
  <path class="p" style="stroke-width:1.1" d="M413.5,628.5 L427.5,627.5 M416,621 L417,633"/>
  <!-- small tick marks on face -->
  <path class="p" d="M352,573 L353,575 M355,594 L356,596 M371,578 L372,580 M413,549 L415,551 M432,600 L434,600 M414,613 L415,615 M371,539 L373,541 M396,546 L398,547 M352,545 L354,548"/>
  <!-- bottom slot -->
  <ellipse cx="460" cy="635" rx="2.2" ry="4.5" transform="rotate(20 460 635)" fill="none" stroke="#000" stroke-width="1.5"/>
</g>
</g>
<!-- LEADERS -->
<g id="leaders" class="ld">
  <line x1="240.5" y1="154" x2="301.5" y2="167.4"/>
  <line x1="179.6" y1="287.9" x2="247.7" y2="310.2"/>
  <polyline points="273,301 307.5,306 397.5,244 422,249"/>
  <line x1="337.5" y1="191.9" x2="458" y2="217.4"/>
  <path d="M356,214.6 Q362,206 369.8,198.8"/>
  <path class="d" style="stroke:#222;stroke-width:1;stroke-dasharray:1.1 1.1" d="M422,109.5 L409.3,140"/>
  <line x1="410.2" y1="145" x2="438" y2="149.6"/>
  <line x1="503" y1="113" x2="466" y2="146"/>
  <path class="d" style="stroke:#333;stroke-width:0.8;stroke-dasharray:2 1.2" d="M604,134.9 L589.4,174.3"/>
  <path class="d" style="stroke:#333;stroke-width:0.8;stroke-dasharray:2 1.2" d="M631.75,143.9 L620.1,176.1"/>
  <line x1="253" y1="319" x2="230.6" y2="351"/>
  <line x1="288.4" y1="329.6" x2="266.5" y2="361"/>
  <line x1="319.4" y1="341.2" x2="298" y2="374"/>
  <line x1="344.2" y1="366.8" x2="327.7" y2="390.7"/>
  <line x1="362.8" y1="396.5" x2="350.4" y2="415.5"/>
  <line x1="432.2" y1="379.2" x2="412.4" y2="406"/>
  <polyline points="358.5,363.5 363,366 350.7,379.4 356.9,382.5"/>
  <line x1="255" y1="491.4" x2="273" y2="500.4"/>
  <line x1="300" y1="515" x2="351" y2="538.5"/>
  <line x1="340" y1="533.7" x2="351" y2="538.7"/>
  <line x1="542.6" y1="609.2" x2="449" y2="575"/>
  <line x1="512" y1="662.6" x2="464.7" y2="639.8"/>
  <line x1="168.2" y1="588.1" x2="147.6" y2="619.1"/>
  <line x1="183" y1="627" x2="162" y2="658"/>
  <polyline points="188,627 201.9,633.5 211.5,621.2 228,628"/>
  <line x1="229" y1="633" x2="208" y2="663"/>
  <line x1="264" y1="638.9" x2="243.75" y2="669.4"/>
  <line x1="290.9" y1="654" x2="270" y2="685.6"/>
  <line x1="319.1" y1="671.9" x2="298.75" y2="700.6"/>
</g>

<!-- BIG LETTERS -->
<text class="big" x="220.2" y="157.6">A</text>
<text class="big" x="161" y="301.4">B</text>
<text class="big" x="543.2" y="615.7">A</text>
<text class="big" x="511.5" y="670.5">B</text>

<!-- blue circle -->
<circle cx="410.7" cy="417.7" r="32.3" fill="none" stroke="#06a0e4" stroke-width="4.7" shape-rendering="crispEdges"/>

<!-- LABELS -->
<g id="labels">
<path d="M338.6,417.8 L341.9,414.3 L342.6,414.3 L342.6,418.5" stroke="#000" stroke-width="1.6" fill="none"/><path d="M353.7,414.9 L348.3,414.9 L348,418.5" stroke="#000" stroke-width="1.7" fill="none"/>
<path d="M273,699 Q275,702 273.3,705.5" stroke="#000" stroke-width="1" fill="none"/><circle cx="273.6" cy="711" r="0.8" fill="#000"/>
<rect x="424.00" y="91.10" width="14.6" height="17.6" fill="#d5d5d5"/><rect x="422.00" y="89.10" width="14.6" height="17.6" fill="#414141"/><text class="lt" x="423.50" y="100.90">4</text>
<rect x="501.10" y="90.10" width="14.6" height="17.6" fill="#d5d5d5"/><rect x="499.10" y="88.10" width="14.6" height="17.6" fill="#414141"/><text class="lt" x="500.60" y="99.90">5</text>
<rect x="520.10" y="91.00" width="14.6" height="17.6" fill="#d5d5d5"/><rect x="518.10" y="89.00" width="14.6" height="17.6" fill="#414141"/><text class="lt" x="519.60" y="100.80">6</text>
<rect x="606.00" y="119.10" width="14.6" height="17.6" fill="#d6d3d3"/><rect x="604.00" y="117.10" width="14.6" height="17.6" fill="#5ccde2"/><text class="lt" x="605.50" y="128.90">8</text>
<rect x="634.10" y="125.10" width="14.6" height="17.6" fill="#d6d3d3"/><rect x="632.10" y="123.10" width="14.6" height="17.6" fill="#5ccde2"/><text class="lt" x="633.60" y="134.90">7</text>
<rect x="346.15" y="217.00" width="14.6" height="17.6" fill="#d5d5d5"/><rect x="344.15" y="215.00" width="14.6" height="17.6" fill="#414141"/><text class="lt" x="345.65" y="226.80">3</text>
<rect x="216.00" y="360.10" width="20.0" height="17.6" fill="#d5d5d5"/><rect x="214.00" y="358.10" width="20.0" height="17.6" fill="#414141"/><path fill="#fff" d="M221.00,360.70 L221.00,369.90 L218.80,369.90 L218.80,364.10 C218.00,364.90 217.20,365.40 216.40,365.70 L216.40,363.70 C217.70,363.10 218.70,362.00 219.20,360.70 Z"/><path fill="#fff" d="M227.17,360.70 L227.17,369.90 L224.97,369.90 L224.97,364.10 C224.17,364.90 223.37,365.40 222.57,365.70 L222.57,363.70 C223.87,363.10 224.87,362.00 225.37,360.70 Z"/>
<rect x="250.10" y="369.20" width="21.0" height="17.6" fill="#d5d5d5"/><rect x="248.10" y="367.20" width="21.0" height="17.6" fill="#414141"/><path fill="#fff" d="M255.10,369.80 L255.10,379.00 L252.90,379.00 L252.90,373.20 C252.10,374.00 251.30,374.50 250.50,374.80 L250.50,372.80 C251.80,372.20 252.80,371.10 253.30,369.80 Z"/><text class="lt" x="256.72" y="379.00">2</text>
<rect x="282.00" y="377.00" width="21.0" height="17.6" fill="#d5d5d5"/><rect x="280.00" y="375.00" width="21.0" height="17.6" fill="#414141"/><path fill="#fff" d="M287.00,377.60 L287.00,386.80 L284.80,386.80 L284.80,381.00 C284.00,381.80 283.20,382.30 282.40,382.60 L282.40,380.60 C283.70,380.00 284.70,378.90 285.20,377.60 Z"/><text class="lt" x="288.62" y="386.80">3</text>
<rect x="308.25" y="393.00" width="21.0" height="17.6" fill="#d5d5d5"/><rect x="306.25" y="391.00" width="21.0" height="17.6" fill="#414141"/><path fill="#fff" d="M313.25,393.60 L313.25,402.80 L311.05,402.80 L311.05,397.00 C310.25,397.80 309.45,398.30 308.65,398.60 L308.65,396.60 C309.95,396.00 310.95,394.90 311.45,393.60 Z"/><text class="lt" x="314.87" y="402.80">6</text>
<rect x="334.10" y="420.10" width="21.0" height="17.6" fill="#d6d3d3"/><rect x="332.10" y="418.10" width="21.0" height="17.6" fill="#5ccde2"/><path fill="#fff" d="M339.10,420.70 L339.10,429.90 L336.90,429.90 L336.90,424.10 C336.10,424.90 335.30,425.40 334.50,425.70 L334.50,423.70 C335.80,423.10 336.80,422.00 337.30,420.70 Z"/><text class="lt" x="340.72" y="429.90">5</text>
<rect x="405.20" y="411.00" width="14.6" height="17.6" fill="#d5d5d5"/><rect x="403.20" y="409.00" width="14.6" height="17.6" fill="#414141"/><text class="lt" x="404.70" y="420.80">9</text>
<rect x="215.10" y="467.10" width="14.6" height="17.6" fill="#d5d5d5"/><rect x="213.10" y="465.10" width="14.6" height="17.6" fill="#414141"/><path fill="#fff" d="M220.10,467.70 L220.10,476.90 L217.90,476.90 L217.90,471.10 C217.10,471.90 216.30,472.40 215.50,472.70 L215.50,470.70 C216.80,470.10 217.80,469.00 218.30,467.70 Z"/>
<rect x="238.20" y="467.10" width="14.6" height="17.6" fill="#d5d5d5"/><rect x="236.20" y="465.10" width="14.6" height="17.6" fill="#414141"/><text class="lt" x="237.70" y="476.90">2</text>
<rect x="132.00" y="627.00" width="21.0" height="17.6" fill="#d5d5d5"/><rect x="130.00" y="625.00" width="21.0" height="17.6" fill="#414141"/><path fill="#fff" d="M137.00,627.60 L137.00,636.80 L134.80,636.80 L134.80,631.00 C134.00,631.80 133.20,632.30 132.40,632.60 L132.40,630.60 C133.70,630.00 134.70,628.90 135.20,627.60 Z"/><text class="lt" x="138.62" y="636.80">0</text>
<rect x="150.10" y="663.00" width="21.0" height="17.6" fill="#d6d3d3"/><rect x="148.10" y="661.00" width="21.0" height="17.6" fill="#5ccde2"/><path fill="#fff" d="M155.10,663.60 L155.10,672.80 L152.90,672.80 L152.90,667.00 C152.10,667.80 151.30,668.30 150.50,668.60 L150.50,666.60 C151.80,666.00 152.80,664.90 153.30,663.60 Z"/><text class="lt" x="156.72" y="672.80">5</text>
<rect x="192.00" y="668.00" width="21.0" height="17.6" fill="#d5d5d5"/><rect x="190.00" y="666.00" width="21.0" height="17.6" fill="#414141"/><path fill="#fff" d="M197.00,668.60 L197.00,677.80 L194.80,677.80 L194.80,672.00 C194.00,672.80 193.20,673.30 192.40,673.60 L192.40,671.60 C193.70,671.00 194.70,669.90 195.20,668.60 Z"/><text class="lt" x="198.62" y="677.80">4</text>
<rect x="223.90" y="673.00" width="21.0" height="17.6" fill="#d5d5d5"/><rect x="221.90" y="671.00" width="21.0" height="17.6" fill="#414141"/><path fill="#fff" d="M228.90,673.60 L228.90,682.80 L226.70,682.80 L226.70,677.00 C225.90,677.80 225.10,678.30 224.30,678.60 L224.30,676.60 C225.60,676.00 226.60,674.90 227.10,673.60 Z"/><text class="lt" x="230.52" y="682.80">3</text>
<rect x="247.00" y="696.00" width="21.0" height="17.6" fill="#d5d5d5"/><rect x="245.00" y="694.00" width="21.0" height="17.6" fill="#414141"/><path fill="#fff" d="M252.00,696.60 L252.00,705.80 L249.80,705.80 L249.80,700.00 C249.00,700.80 248.20,701.30 247.40,701.60 L247.40,699.60 C248.70,699.00 249.70,697.90 250.20,696.60 Z"/><text class="lt" x="253.62" y="705.80">2</text>
<rect x="288.25" y="709.25" width="20.0" height="17.6" fill="#d5d5d5"/><rect x="286.25" y="707.25" width="20.0" height="17.6" fill="#414141"/><path fill="#fff" d="M293.25,709.85 L293.25,719.05 L291.05,719.05 L291.05,713.25 C290.25,714.05 289.45,714.55 288.65,714.85 L288.65,712.85 C289.95,712.25 290.95,711.15 291.45,709.85 Z"/><path fill="#fff" d="M299.42,709.85 L299.42,719.05 L297.22,719.05 L297.22,713.25 C296.42,714.05 295.62,714.55 294.82,714.85 L294.82,712.85 C296.12,712.25 297.12,711.15 297.62,709.85 Z"/>
</g>
</svg>
</body></html>
